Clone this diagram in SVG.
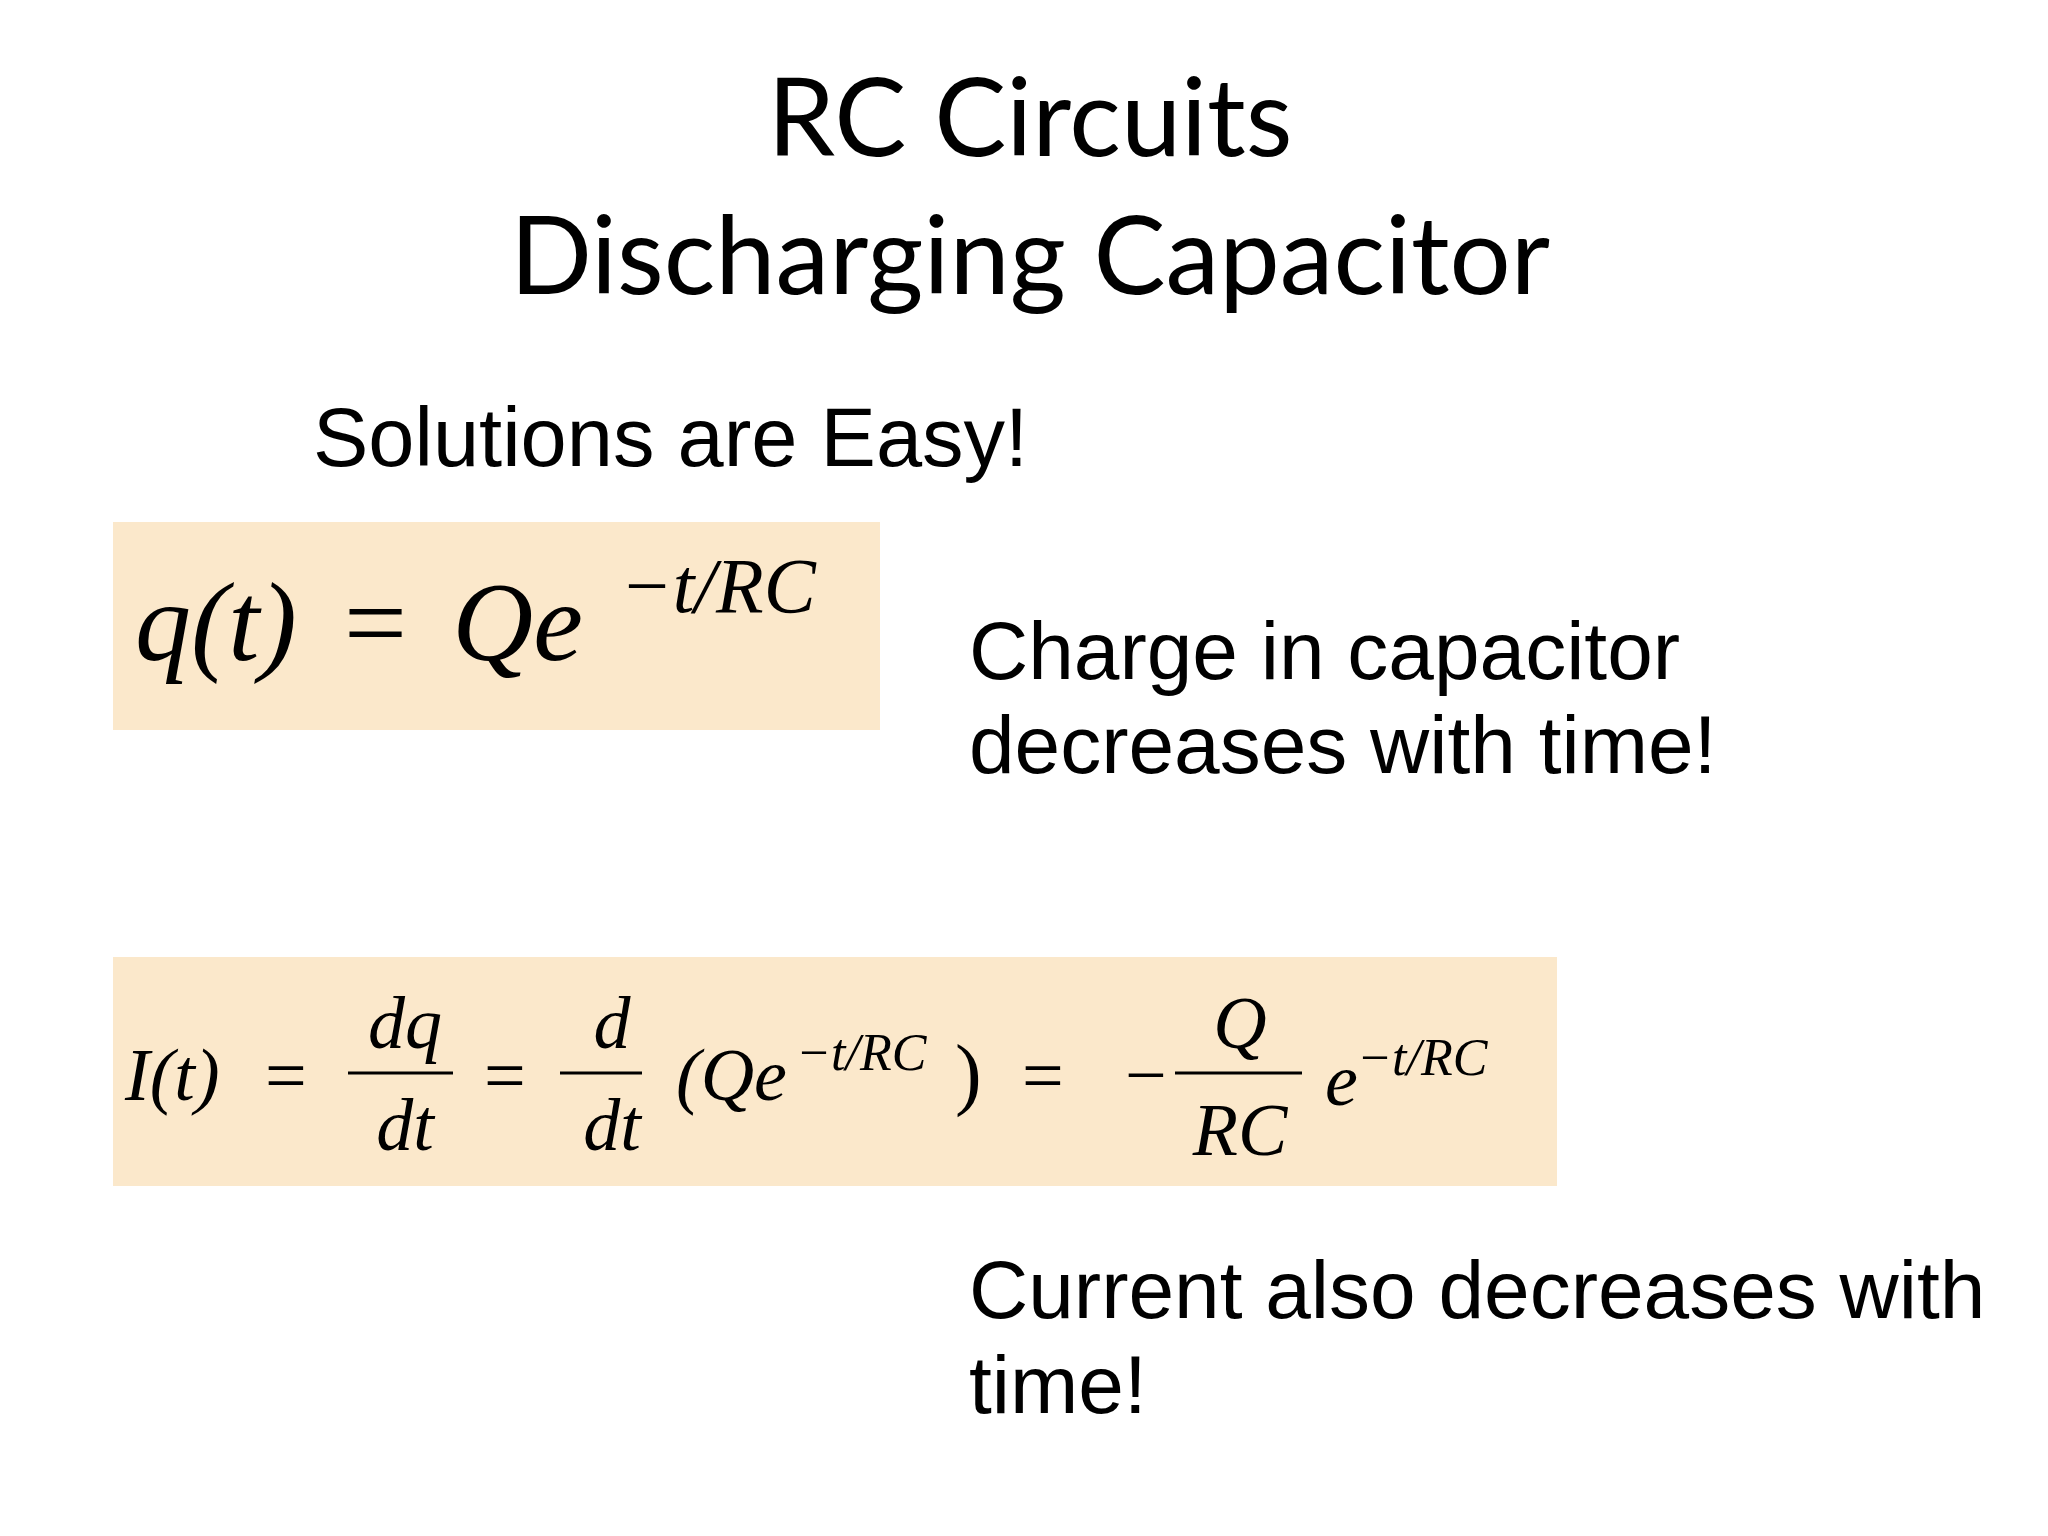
<svg xmlns="http://www.w3.org/2000/svg" width="2048" height="1536" viewBox="0 0 2048 1536">
<style>
.t{font-family:"Lato","Open Sans",sans-serif;fill:#000}
.s{font-family:"Liberation Sans",Arial,sans-serif;fill:#000}
.m{font-family:"Liberation Serif","Times New Roman",serif;fill:#000;font-style:italic}
.r{font-family:"Liberation Serif","Times New Roman",serif;fill:#000}
.box{fill:#fbe8cb}
</style>
<rect width="2048" height="1536" fill="#fff"/>
<g id="title">
<text class="t" x="1030" y="156" font-size="108" text-anchor="middle">RC Circuits</text>
<text class="t" x="1030" y="294" font-size="108" text-anchor="middle">Discharging Capacitor</text>
</g>
<text class="s" x="313" y="466" font-size="83">Solutions are Easy!</text>
<g id="eq1">
<rect class="box" x="113" y="522" width="767" height="208"/>
<text class="m" x="135" y="660" font-size="112">q<tspan class="r">(</tspan>t<tspan class="r">)</tspan><tspan class="r" dx="40">=</tspan><tspan dx="40">Qe</tspan></text>
<text class="m" x="620" y="612" font-size="78"><tspan class="r">−</tspan>t<tspan class="r">/</tspan>RC</text>
</g>
<g id="note1">
<text class="s" x="969" y="679" font-size="82">Charge in capacitor</text>
<text class="s" x="969" y="773" font-size="82">decreases with time!</text>
</g>
<g id="eq2">
<rect class="box" x="113" y="957" width="1444" height="229"/>
<text class="m" x="125" y="1100" font-size="74">I<tspan class="r">(</tspan>t<tspan class="r">)</tspan></text>
<text class="r" x="265" y="1100" font-size="74">=</text>
<text class="m" x="405" y="1048" font-size="74" text-anchor="middle">dq</text>
<line x1="348" y1="1073" x2="453" y2="1073" stroke="#000" stroke-width="3"/>
<text class="m" x="405" y="1150" font-size="74" text-anchor="middle">dt</text>
<text class="r" x="484" y="1100" font-size="74">=</text>
<text class="m" x="612" y="1048" font-size="74" text-anchor="middle">d</text>
<line x1="560" y1="1073" x2="642" y2="1073" stroke="#000" stroke-width="3"/>
<text class="m" x="612" y="1150" font-size="74" text-anchor="middle">dt</text>
<text class="m" x="676" y="1100" font-size="74"><tspan class="r">(</tspan>Qe</text>
<text class="m" x="796" y="1070" font-size="52"><tspan class="r">−</tspan>t<tspan class="r">/</tspan>RC</text>
<text class="r" x="955" y="1100" font-size="80">)</text>
<text class="r" x="1022" y="1100" font-size="74">=</text>
<text class="r" x="1125" y="1100" font-size="74">−</text>
<text class="m" x="1240" y="1048" font-size="74" text-anchor="middle">Q</text>
<line x1="1175" y1="1073" x2="1302" y2="1073" stroke="#000" stroke-width="3"/>
<text class="m" x="1240" y="1155" font-size="74" text-anchor="middle">RC</text>
<text class="m" x="1325" y="1105" font-size="74">e</text>
<text class="m" x="1357" y="1075" font-size="52"><tspan class="r">−</tspan>t<tspan class="r">/</tspan>RC</text>
</g>
<g id="note2">
<text class="s" x="969" y="1318" font-size="82">Current also decreases with</text>
<text class="s" x="969" y="1413" font-size="82">time!</text>
</g>
</svg>
